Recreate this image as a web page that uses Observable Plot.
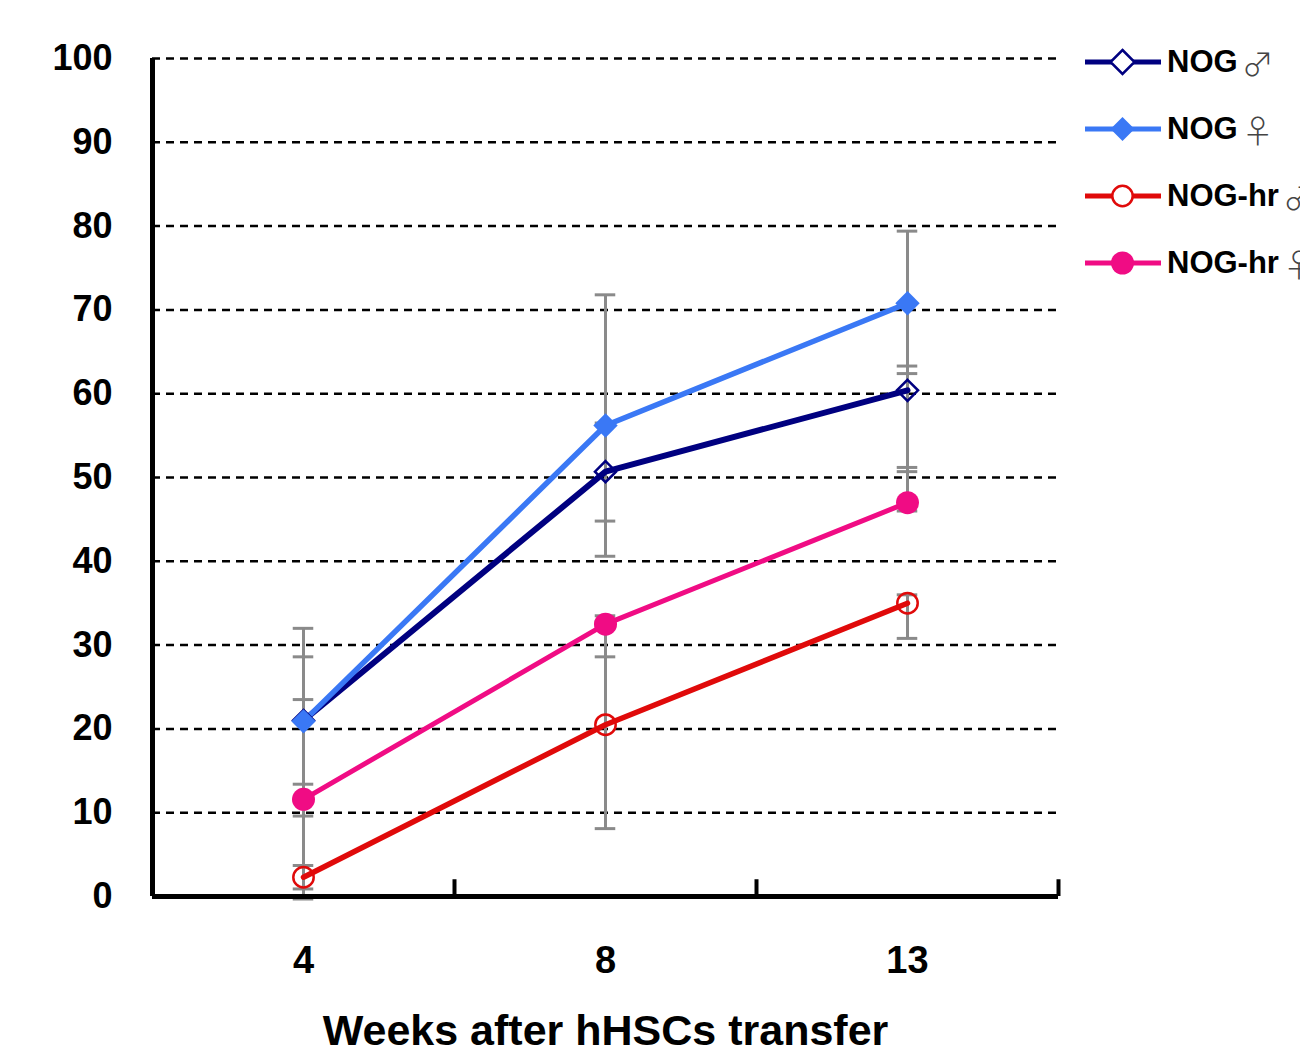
<!DOCTYPE html>
<html>
<head>
<meta charset="utf-8">
<script src="https://cdn.jsdelivr.net/npm/d3@7"></script>
<script src="https://cdn.jsdelivr.net/npm/@observablehq/plot@0.6"></script>
<style>
  html, body { margin: 0; padding: 0; background: #fff; overflow: hidden; }
  #wrap { position: relative; width: 1300px; height: 1051px; overflow: hidden; font-family: "Liberation Sans", Arial, sans-serif; }
  #legend { position: absolute; left: 1085px; top: 0; }
  .row { position: absolute; left: 0; height: 40px; display: flex; align-items: center; white-space: nowrap; }
  .row svg { display: block; }
  .row span.lab { font-weight: bold; font-size: 31px; margin-left: 6px; color: #000; }
  .row span.sym { font-family: "Noto Sans CJK JP", "DejaVu Sans", sans-serif; font-weight: 300; font-size: 32px; color: #444; margin-left: 4px; }
</style>
</head>
<body>
<div id="wrap"><div id="chart"></div><div id="legend"></div></div>
<script>
// ---- data ----
const weeks = ["4", "8", "13"];
const seriesNames = ["NOG", "NOG", "NOG-hr", "NOG-hr"];
const seriesSex = ["♂", "♀", "♂", "♀"];
const seriesColors = ["#000080", "#3a78f5", "#e00a0a", "#f00c84"];
const seriesSymbols = ["diamond2", "diamond2", "circle", "circle"];
const seriesFilled = [false, true, false, true];

const nogMale      = [21.0, 50.7, 60.4];
const nogFemale    = [20.9, 56.2, 70.8];
const nogHrMale    = [2.3, 20.5, 35.0];
const nogHrFemale  = [11.6, 32.5, 47.0];

// error bar extents (upper / lower) read from the caps
const nogMaleUp      = [7.6, 5.8, 2.9];
const nogMaleDown    = [7.6, 5.9, 9.7];
const nogFemaleUp    = [11.1, 15.6, 8.6];
const nogFemaleDown  = [11.3, 15.6, 8.4];
const nogHrMaleUp    = [1.4, 12.3, 1.0];
const nogHrMaleDown  = [1.4, 12.4, 4.2];
const nogHrFemaleUp  = [11.9, 1.0, 4.2];
const nogHrFemaleDown= [11.9, 3.9, 1.0];

const yTicks = [0, 10, 20, 30, 40, 50, 60, 70, 80, 90, 100];

// ---- build table ----
const values = [nogMale, nogFemale, nogHrMale, nogHrFemale];
const ups = [nogMaleUp, nogFemaleUp, nogHrMaleUp, nogHrFemaleUp];
const downs = [nogMaleDown, nogFemaleDown, nogHrMaleDown, nogHrFemaleDown];
const rows = [];
values.forEach((vals, s) => {
  vals.forEach((v, i) => {
    rows.push({
      s, key: seriesNames[s] + " " + seriesSex[s],
      xi: i + 0.5, week: weeks[i], v,
      hi: v + ups[s][i], lo: v - downs[s][i]
    });
  });
});
const capHalf = 0.034;
const caps = rows.flatMap(d => [
  {xi: d.xi, y: d.hi}, {xi: d.xi, y: d.lo}
]);
const lineWidths = [6, 5.5, 5.5, 5];

const marks = [
  Plot.ruleY(yTicks.filter(t => t > 0), {y: d => d, stroke: "#000", strokeWidth: 2.5, strokeDasharray: "8,6"}),
  // error bars
  Plot.ruleX(rows, {x: "xi", y1: "lo", y2: "hi", stroke: "#8a8a8a", strokeWidth: 3}),
  Plot.ruleY(caps, {y: "y", x1: d => d.xi - capHalf, x2: d => d.xi + capHalf, stroke: "#8a8a8a", strokeWidth: 3}),
];
// lines
[0, 1, 2, 3].forEach(s => {
  marks.push(Plot.line(rows.filter(d => d.s === s), {x: "xi", y: "v", stroke: seriesColors[s], strokeWidth: lineWidths[s]}));
});
// markers
[0, 1, 2, 3].forEach(s => {
  const data = rows.filter(d => d.s === s);
  const isDiamond = seriesSymbols[s] === "diamond2";
  if (seriesFilled[s]) {
    marks.push(Plot.dot(data, {x: "xi", y: "v", symbol: seriesSymbols[s], r: isDiamond ? 11 : 11.5, fill: seriesColors[s], stroke: "none"}));
  } else {
    marks.push(Plot.dot(data, {x: "xi", y: "v", symbol: seriesSymbols[s], r: isDiamond ? 9.5 : 10.2, fill: "none", stroke: seriesColors[s], strokeWidth: 2.5}));
  }
});
// axes lines and ticks
marks.push(
  Plot.ruleX([0], {x: d => d, stroke: "#000", strokeWidth: 5}),
  Plot.ruleY([0], {y: d => d, stroke: "#000", strokeWidth: 5}),
  Plot.ruleX([1, 2, 3], {x: d => d, y1: 0, y2: 2.0, stroke: "#000", strokeWidth: 4}),
  Plot.axisY({ticks: yTicks, tickSize: 0, tickPadding: 40, fontSize: 36, fontWeight: "bold", label: null}),
  Plot.axisX({ticks: weeks.map((w, i) => i + 0.5), tickFormat: t => weeks[Math.floor(t)], tickSize: 0, tickPadding: 50, fontSize: 38, fontWeight: "bold",
    label: "Weeks after hHSCs transfer", labelAnchor: "center", labelArrow: false, labelOffset: 148})
);

const chart = Plot.plot({
  width: 1300,
  height: 1051,
  marginLeft: 152,
  marginRight: 242,
  marginTop: 58,
  marginBottom: 155,
  style: {fontFamily: "'Liberation Sans', Arial, sans-serif", color: "#000", background: "#fff", overflow: "visible"},
  x: {type: "linear", domain: [0, 3]},
  y: {domain: [0, 100]},
  marks
});
// enlarge the x-axis label font
chart.querySelectorAll("g[aria-label='x-axis label'] text").forEach(t => {
  t.setAttribute("font-size", "43");
  t.setAttribute("font-weight", "bold");
});
document.getElementById("chart").appendChild(chart);

// ---- legend ----
const legend = document.getElementById("legend");
const rowCenters = [62, 129, 196, 263];
seriesNames.forEach((name, s) => {
  const row = document.createElement("div");
  row.className = "row";
  row.style.top = (rowCenters[s] - 20) + "px";
  const c = seriesColors[s];
  let marker;
  if (seriesSymbols[s] === "diamond2") {
    marker = `<path d="M37.5,${20-12} L${37.5+12},20 L37.5,${20+12} L${37.5-12},20 Z" fill="${seriesFilled[s] ? c : "#fff"}" stroke="${c}" stroke-width="${seriesFilled[s] ? 0 : 2.5}"/>`;
  } else {
    marker = `<circle cx="37.5" cy="20" r="${seriesFilled[s] ? 11.5 : 10.2}" fill="${seriesFilled[s] ? c : "#fff"}" stroke="${c}" stroke-width="${seriesFilled[s] ? 0 : 2.5}"/>`;
  }
  row.innerHTML = `<svg width="76" height="40"><line x1="0" x2="76" y1="20" y2="20" stroke="${c}" stroke-width="5"/>${marker}</svg><span class="lab">${name}</span><span class="sym">${seriesSex[s]}</span>`;
  legend.appendChild(row);
});
</script>
</body>
</html>
